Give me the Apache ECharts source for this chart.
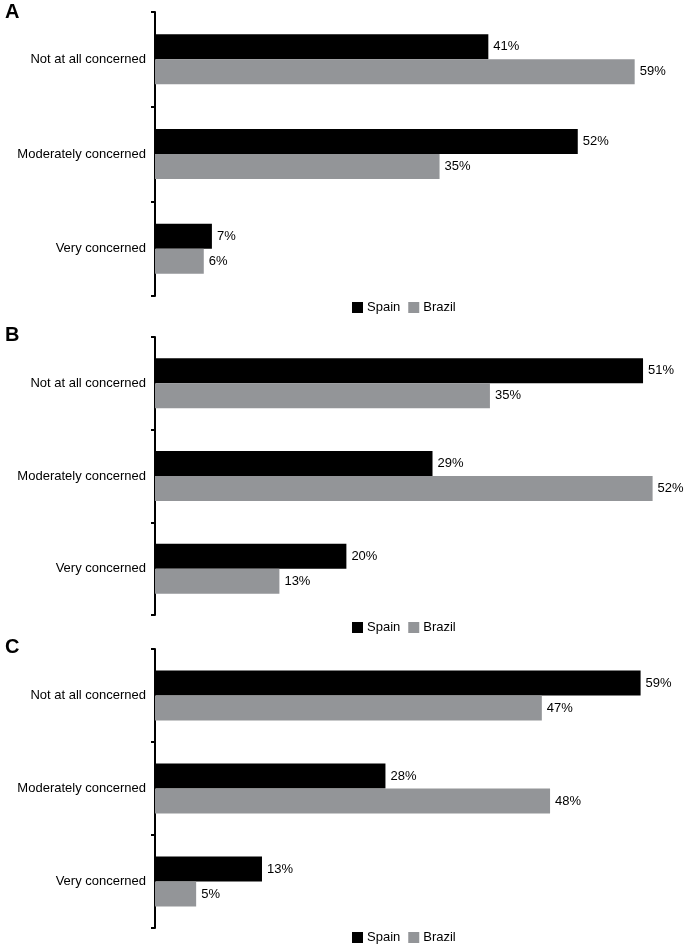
<!DOCTYPE html>
<html>
<head>
<meta charset="utf-8">
<script src="https://cdn.jsdelivr.net/npm/echarts@6/dist/echarts.min.js"></script>
<style>
  html, body { margin: 0; padding: 0; background: #fff; }
  #container { width: 685px; height: 947px; }
</style>
</head>
<body>
<div id="container"></div>
<script>
// categories (top to bottom)
var categories = ['Not at all concerned', 'Moderately concerned', 'Very concerned'];
var panelNames = ['A', 'B', 'C'];
var seriesNames = ['Spain', 'Brazil'];

// values in percent
var spainA = [41, 52, 7];
var brazilA = [59, 35, 6];
var spainB = [51, 29, 20];
var brazilB = [35, 52, 13];
var spainC = [59, 28, 13];
var brazilC = [47, 48, 5];

var spainData = [spainA, spainB, spainC];
var brazilData = [brazilA, brazilB, brazilC];

// layout per panel
var gridTops = [12, 337, 649];
var gridHeights = [284, 278, 279];
var xMax = [61.5, 52.25, 60.75];
var legendTops = [301, 621, 931];

var font = '"Liberation Sans", Arial, sans-serif';
var colors = ['#000000', '#939598'];

var dom = document.getElementById('container');
var myChart = echarts.init(dom);

var grids = [], xAxes = [], yAxes = [], series = [], titles = [], legends = [];

for (var i = 0; i < 3; i++) {
    grids.push({ left: 155, width: 500, top: gridTops[i], height: gridHeights[i] });
    titles.push({
        text: panelNames[i], left: 0, top: gridTops[i] - 15 + (i == 0 ? 0 : -2),
        textStyle: { fontFamily: font, fontWeight: 'bold', fontSize: 20, color: '#000' }
    });
    legends.push({
        data: seriesNames, left: 352, top: legendTops[i], padding: 0,
        itemWidth: 11, itemHeight: 11, itemGap: 8,
        icon: 'rect',
        textStyle: { fontFamily: font, fontSize: 13, color: '#000', padding: [0, 0, 0, -1] }
    });
    xAxes.push({
        type: 'value', gridIndex: i, min: 0, max: xMax[i],
        show: false
    });
    yAxes.push({
        type: 'category', gridIndex: i, data: categories, inverse: true,
        axisLine: { lineStyle: { color: '#000', width: 2 } },
        axisTick: { show: true, length: 4, lineStyle: { color: '#000', width: 2 } },
        axisLabel: { fontFamily: font, fontSize: 13, color: '#000', margin: 9 }
    });
    var sets = [spainData[i], brazilData[i]];
    for (var s = 0; s < 2; s++) {
        series.push({
            name: seriesNames[s], type: 'bar',
            xAxisIndex: i, yAxisIndex: i,
            data: sets[s],
            barWidth: 25, barGap: '0%',
            itemStyle: { color: colors[s] },
            label: {
                show: true, position: 'right', distance: 5,
                formatter: '{c}%',
                fontFamily: font, fontSize: 13, color: '#000'
            },
            silent: true
        });
    }
}

option = {
    backgroundColor: '#fff',
    animation: false,
    color: colors,
    title: titles,
    legend: legends,
    grid: grids,
    xAxis: xAxes,
    yAxis: yAxes,
    series: series
};
myChart.setOption(option, true);
</script>
</body>
</html>
